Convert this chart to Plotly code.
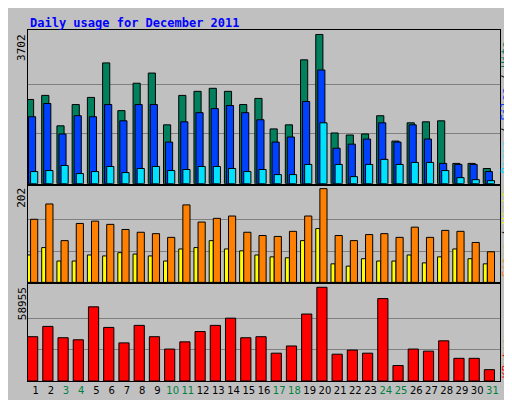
import plotly.graph_objects as go

days = list(range(1, 32))
hits = [2090,2191,1436,1964,2141,2997,1813,2493,2745,1461,2191,2292,2367,2292,1964,2116,1360,1461,3073,3702,1259,1209,1234,1687,1058,1511,1536,1561,504,504,378]
files = [1662,1990,1234,1687,1662,1964,1561,1964,1964,1033,1536,1763,1864,1939,1763,1587,1033,1159,2040,2821,881,982,1108,1511,1033,1461,1108,504,479,479,302]
pages = [302,327,453,252,302,428,277,378,428,327,353,428,428,378,302,353,227,227,479,1511,479,176,479,604,479,529,529,327,151,101,76]
visits = [136,169,90,127,132,125,114,108,105,97,167,130,138,143,108,101,99,110,143,202,101,90,103,105,97,119,97,112,110,86,66]
sites = [59,75,46,46,59,57,64,61,57,46,72,75,90,72,68,59,55,53,90,116,40,35,51,46,46,59,42,55,72,51,40]
kbytes = [27864,34344,27216,25920,46656,33696,23976,34992,27864,20088,24624,31104,34992,39528,27216,27864,17496,22032,42120,58955,16848,19440,17496,51840,9720,20088,18792,25272,14256,14256,7128]
weekend = [3,4,10,11,17,18,24,25,31]

fig = go.Figure()
def bar(y, color, off, w, ax):
    fig.add_trace(go.Bar(x=days, y=y, marker=dict(color=color, line=dict(color="black", width=1)),
                         offset=off, width=w, xaxis="x" + ax, yaxis="y" + ax, showlegend=False))

bar(hits, "#00805C", -0.6, 0.47, "")
bar(files, "#0040FF", -0.47, 0.47, "")
bar(pages, "#00E0FF", -0.33, 0.47, "")
bar(sites, "#FFFF00", -0.6, 0.27, "2")
bar(visits, "#FF8000", -0.33, 0.47, "2")
bar(kbytes, "#FF0000", -0.53, 0.67, "3")

def yax(mx, dom):
    return dict(domain=dom, range=[0, mx * 1.03], tickvals=[mx / 3, 2 * mx / 3], showticklabels=False,
                gridcolor="#808080", gridwidth=1, showline=True, mirror=True, linecolor="black",
                zeroline=False, fixedrange=True)

def xax(anchor, labels):
    d = dict(range=[0.5, 31.5], anchor=anchor, showline=True, mirror=True, linecolor="black",
             showgrid=False, zeroline=False, ticks="")
    if labels:
        d.update(tickvals=days, tickangle=0,
                 ticktext=[f"<span style='color:{'#008040' if d_ in weekend else 'black'}'>{d_}</span>" for d_ in days],
                 tickfont=dict(family="DejaVu Sans", size=10))
    else:
        d.update(showticklabels=False)
    return d

fig.update_layout(
    width=512, height=400, margin=dict(l=20, r=20, t=22, b=22),
    paper_bgcolor="#C0C0C0", plot_bgcolor="#C0C0C0", barmode="overlay",
    xaxis=xax("y", False), yaxis=yax(3702, [0.562, 1]),
    xaxis2=xax("y2", False), yaxis2=yax(202, [0.281, 0.556]),
    xaxis3=xax("y3", True), yaxis3=yax(58955, [0, 0.275]),
    font=dict(family="DejaVu Sans Mono"),
)
def rot(x, y, text, color="black", angle=-90):
    return dict(x=x, y=y, xref="paper", yref="paper", xanchor="center", yanchor="middle", textangle=angle,
                text=text, showarrow=False, font=dict(size=11, color=color))
ann = [
    dict(x=0, y=1.02, xref="paper", yref="paper", xanchor="left", yanchor="middle", showarrow=False,
         text="<b>Daily usage for December 2011</b>", font=dict(color="#0000FF", size=12, family="DejaVu Sans Mono")),
    rot(-0.0127, 0.949, "3702"),
    rot(-0.0127, 0.522, "202"),
    rot(-0.0127, 0.219, "58955"),
    rot(1.0127, 0.781, "<span style='color:#00E0FF'>Pages</span> / <span style='color:#0040FF'>Files</span> / <span style='color:#00805C'>Hits</span>"),
    rot(1.0127, 0.43, "<span style='color:#FF8000'>Sites</span> / <span style='color:#FFFF00'>Visits</span>"),
    rot(1.0127, 0.065, "KBytes", "#FF0000"),
]
fig.update_layout(annotations=ann)
fig.write_html("out.html")
